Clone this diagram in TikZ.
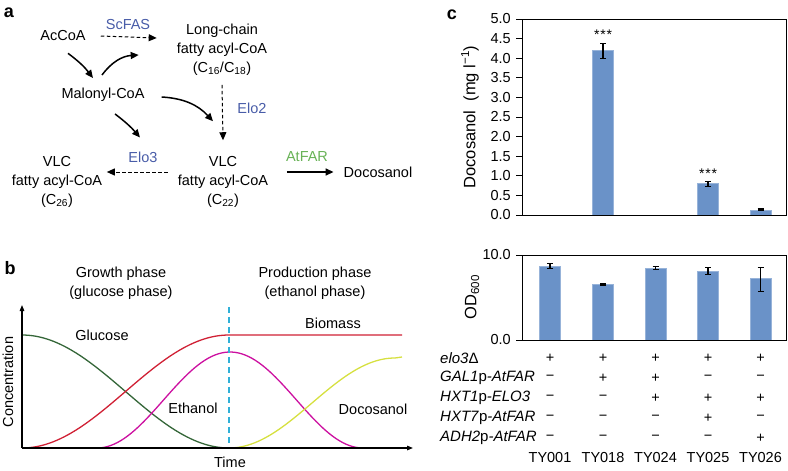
\documentclass[tikz,border=0pt]{standalone}
\usepackage{fontspec}
\setmainfont{Liberation Sans}
\usetikzlibrary{arrows.meta}
\definecolor{enzblue}{RGB}{72,92,168}
\definecolor{enzgreen}{RGB}{104,178,86}
\definecolor{glc}{RGB}{52,102,56}
\definecolor{bio}{RGB}{208,32,52}
\definecolor{eth}{RGB}{204,16,160}
\definecolor{docy}{RGB}{214,224,64}
\definecolor{phasec}{RGB}{48,176,216}
\definecolor{barc}{RGB}{106,146,200}
\tikzset{
  txt/.style={inner sep=0pt,font=\fontsize{14.5}{19}\selectfont},
  ctxt/.style={txt,align=center},
  enz/.style={txt,text=enzblue},
  panel/.style={inner sep=0pt,font=\fontsize{18}{20}\selectfont\bfseries},
  sarr/.style={line width=1.5pt,-{Triangle[length=8pt,width=7pt]}},
  darr/.style={line width=1pt,dash pattern=on 3.5pt off 2.5pt,-{Triangle[length=8pt,width=7pt]}},
  curve/.style={line width=1.3pt},
  axarr/.style={line width=1.3pt,-{Triangle[length=6pt,width=4.5pt]}},
  ctk/.style={inner sep=0pt,font=\fontsize{14.5}{16}\selectfont},
  ylab/.style={inner sep=0pt,rotate=90,font=\fontsize{16.5}{18}\selectfont},
  rowlab/.style={inner sep=0pt,font=\fontsize{15}{16}\selectfont\itshape,anchor=west},
  barfill/.style={fill=barc,draw=barc!70!white,line width=0.5pt},
  ebar/.style={line width=1.2pt,{Bar[width=6pt,line width=1.2pt]}-{Bar[width=6pt,line width=1.2pt]}},
  frame/.style={line width=1pt},
  stars/.style={inner sep=0pt,font=\fontsize{14}{15}\selectfont}
}
\begin{document}
\begin{tikzpicture}[x=1pt,y=-1pt]
\useasboundingbox (0,0) rectangle (788,471);
% ---------- panel a ----------
\node[panel] (pa) at (9,13) {a};
\node[txt] (acc) at (63,36) {AcCoA};
\node[enz] (scfas) at (128,25) {ScFAS};
\node[ctxt] (lc) at (222,50) {Long-chain\\fatty acyl-CoA\\(C\textsubscript{16}/C\textsubscript{18})};
\node[txt] (mal) at (103,95) {Malonyl-CoA};
\node[enz] (elo2) at (252,108) {Elo2};
\node[ctxt] (v22) at (223,182) {VLC\\fatty acyl-CoA\\(C\textsubscript{22})};
\node[ctxt] (v26) at (57,182) {VLC\\fatty acyl-CoA\\(C\textsubscript{26})};
\node[enz] (elo3) at (143,157) {Elo3};
\node[txt,text=enzgreen] (atfar) at (307,157) {AtFAR};
\node[txt] (doc) at (378,172) {Docosanol};
\draw[darr] ([xshift=15pt]acc.east) -- ([xshift=-20pt,yshift=12pt]lc.west);
\draw[sarr] ([shift={(5,12)}]acc.south) to[bend left=8] ([shift={(-10,-10)}]mal.north);
\draw[sarr] ([shift={(-1,-13)}]mal.north) to[bend left=25] ([shift={(-38,5)}]lc.west);
\draw[sarr] ([shift={(17,2)}]mal.east) to[bend left=22] ([shift={(-10,-35)}]v22.north);
\draw[sarr] ([shift={(12,12)}]mal.south) to[bend left=6] ([shift={(-3,-14)}]elo3.north);
\draw[darr] ([yshift=-9pt]lc.south) -- ([yshift=16pt]v22.north);
\draw[darr] ([shift={(-10,-10)}]v22.west) -- ([shift={(4.5,-10)}]v26.east);
\draw[sarr] ([shift={(18.5,-10)}]v22.east) -- ([xshift=-10pt]doc.west);
% ---------- panel b ----------
\node[panel] (pb) at (10,268) {b};
\node[ctxt] (grow) at (121,283) {Growth phase\\(glucose phase)};
\node[ctxt] (prod) at (315,283) {Production phase\\(ethanol phase)};
\coordinate (o) at (22,448);
\coordinate (ytop) at (22,305);
\coordinate (xend) at (413,448);
\draw[curve,glc] plot[domain=22:229,samples=60] (\x,{448-56.5*(1+cos(0.869565*(\x-22)))});
\draw[curve,eth] plot[domain=97:363,samples=80] (\x,{448-48*(1-cos(1.353383*(\x-97)))});
\draw[curve,docy] plot[domain=229:395,samples=60] (\x,{448-45*(1-cos(1.084337*(\x-229)))}) -- (402,357);
\draw[curve,bio] plot[domain=22:229,samples=60] (\x,{448-56.5*(1-cos(0.869565*(\x-22)))}) -- (402,335);
\draw[line width=1.5pt,phasec,dash pattern=on 6pt off 4pt] (229,307) -- (229,448);
\draw[axarr] (o) -- (ytop);
\draw[axarr] (o) -- (xend);
\node[txt] (glab) at (102,335) {Glucose};
\node[txt] (elab) at (193,408) {Ethanol};
\node[txt] (blab) at (333,323) {Biomass};
\node[txt] (dlab) at (373,409) {Docosanol};
\node[txt] (tlab) at (230,462) {Time};
\node[txt,rotate=90] (clab) at (8,382) {Concentration};
% ---------- panel c ----------
\node[panel] (pc) at (452,15) {c};
% top plot
\foreach \v/\t in {0/0.0,0.5/0.5,1/1.0,1.5/1.5,2/2.0,2.5/2.5,3/3.0,3.5/3.5,4/4.0,4.5/4.5,5/5.0}{
  \node[ctk,anchor=east] at (511,{215-\v*39.2}) {\t};
  \draw[line width=0.8pt] (516,{215-\v*39.2}) -- (522,{215-\v*39.2});
}
\node[ylab] (ylab1) at (470,117) {Docosanol\ \ (mg l\textsuperscript{−1})};
% bars top
\foreach \c/\v/\lo/\hi in {603/4.2/3.97/4.39, 708/0.8/0.71/0.87, 760.5/0.13/0.10/0.17}{
  \fill[barfill] ({\c-10.5},215) rectangle ({\c+10.5},{215-\v*39.2});
  \draw[ebar] (\c,{215-\lo*39.2}) -- (\c,{215-\hi*39.2});
}
\node[stars] (s1) at (603,35) {*\kern0.8pt*\kern0.8pt*};
\node[stars] (s2) at (708,174) {*\kern0.8pt*\kern0.8pt*};
\draw[frame] (522,19) rectangle (786,215);
% bottom plot
\node[ctk,anchor=east] at (511,255) {10.0};
\node[ctk,anchor=east] at (511,340) {0.0};
\draw[line width=0.8pt] (516,255) -- (522,255);
\draw[line width=0.8pt] (516,340) -- (522,340);
\node[ylab] (ylab2) at (472,297) {OD\textsubscript{600}};
\foreach \c/\v/\lo/\hi in {550/8.7/8.31/9.09, 603/6.6/6.39/6.74, 655.5/8.43/8.24/8.7, 708/8.12/7.65/8.62, 760.5/7.25/5.68/8.62}{
  \fill[barfill] ({\c-10.5},340) rectangle ({\c+10.5},{340-\v*8.5});
  \draw[ebar] (\c,{340-\lo*8.5}) -- (\c,{340-\hi*8.5});
}
\draw[frame] (522,255) rectangle (786,340);
% table
\node[rowlab] (r1) at (440,358) {elo3\textup{Δ}};
\node[rowlab] (r2) at (440,378) {GAL1\textup{p}-AtFAR};
\node[rowlab] (r3) at (440,398) {HXT1\textup{p}-ELO3};
\node[rowlab] (r4) at (440,418) {HXT7\textup{p}-AtFAR};
\node[rowlab] (r5) at (440,438) {ADH2\textup{p}-AtFAR};
\foreach \c/\a/\b/\cc/\d/\e/\n in {550/+/−/−/−/−/TY001, 603/+/+/−/−/−/TY018, 655.5/+/+/+/−/−/TY024, 708/+/−/+/+/−/TY025, 760.5/+/−/+/−/+/TY026}{
  \node[ctk] at (\c,358) {\a};
  \node[ctk] at (\c,378) {\b};
  \node[ctk] at (\c,398) {\cc};
  \node[ctk] at (\c,418) {\d};
  \node[ctk] at (\c,438) {\e};
  \node[ctk] at (\c,458) {\n};
}
\end{tikzpicture}
\end{document}
